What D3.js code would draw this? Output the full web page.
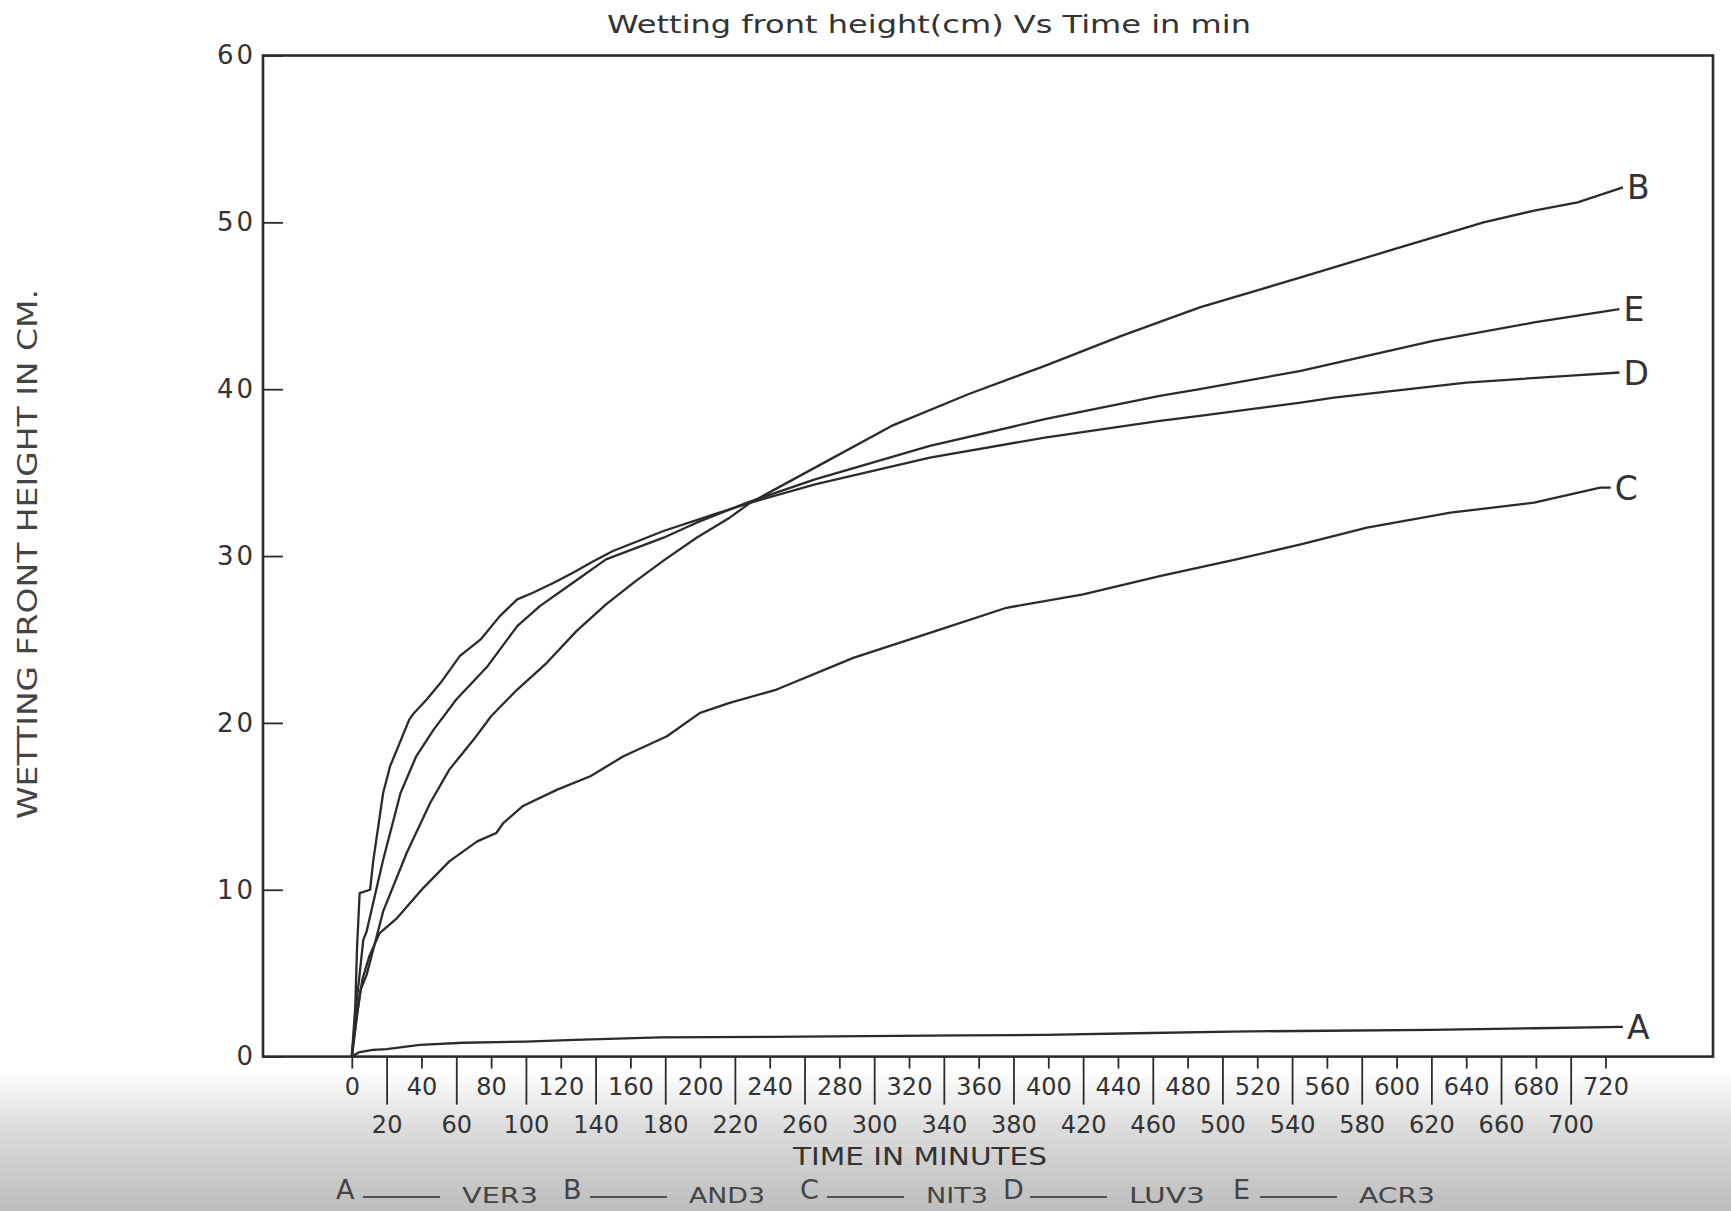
<!DOCTYPE html>
<html>
<head>
<meta charset="utf-8">
<script src="https://cdn.jsdelivr.net/npm/d3@7"></script>
<style>
  body { margin: 0; background: #fff; }
  svg { display: block; }
</style>
</head>
<body>
<svg id="chart" width="1731" height="1211"></svg>
<script>
// tick labels
let xTickTop = [0, 40, 80, 120, 160, 200, 240, 280, 320, 360, 400, 440, 480, 520, 560, 600, 640, 680, 720];
let xTickBottom = [20, 60, 100, 140, 180, 220, 260, 300, 340, 380, 420, 460, 500, 540, 580, 620, 660, 700];
let yTicks = [0, 10, 20, 30, 40, 50, 60];

// series: [time in min, wetting front height in cm]
let seriesKeys = ['A', 'B', 'C', 'D', 'E'];
let seriesNames = ['VER3', 'AND3', 'NIT3', 'LUV3', 'ACR3'];

let ver3 = [[0,0],[4,0.25],[12,0.4],[20,0.45],[39,0.7],[64,0.83],[100,0.9],[128,1.0],[177,1.15],[240,1.18],[295,1.23],
    [350,1.27],[398,1.3],[450,1.4],[505,1.5],[560,1.55],[620,1.6],[680,1.7],[730,1.78]];
let and3 = [[0,0],[3,2.5],[5,4],[8.5,4.9],[18,8.7],[31.5,12.2],[45,15.2],[56,17.2],[70,19.0],[80,20.4],[95,22.0],
    [112,23.6],[129,25.5],[146,27.1],[163,28.5],[180,29.8],[198,31.1],[217,32.3],[229,33.2],[266,35.3],[310,37.8],
    [354,39.7],[398,41.4],[442,43.2],[487,44.9],[545,46.7],[602,48.5],[650,50.0],[679,50.7],[704,51.2],[730,52.1]];
let nit3 = [[0,0],[3,2.5],[6,4.6],[10,6.0],[16,7.4],[26,8.3],[41,10.1],[56,11.7],[72,12.9],[83,13.4],[87,14.0],
    [98,15.0],[118,16.0],[137,16.8],[156,18.0],[181,19.2],[200,20.6],[217,21.2],[244,22.0],[288,23.9],[332,25.4],
    [376,26.9],[420,27.7],[464,28.8],[508,29.8],[545,30.7],[583,31.7],[631,32.6],[679,33.2],[717,34.1],[723,34.1]];
let luv3 = [[0,0],[2,3],[3,6.5],[4.5,9.8],[10.5,10.0],[12.4,11.8],[18,15.8],[22,17.4],[33,20.2],[35,20.5],[43,21.4],
    [51,22.4],[62,24.0],[74,25.0],[85,26.4],[95,27.4],[104,27.8],[116,28.4],[127,29.0],[139,29.7],[150,30.3],
    [179,31.5],[208,32.5],[229,33.2],[266,34.3],[332,35.9],[398,37.1],[464,38.1],[487,38.4],[545,39.2],[564,39.5],
    [640,40.4],[698,40.8],[728,41.0]];
let acr3 = [[0,0],[3,3.5],[6.6,7.0],[8.5,7.5],[18,11.8],[28,15.8],[37,18.0],[47,19.6],[60,21.4],[78,23.4],[95,25.8],
    [108,27.0],[127,28.4],[146,29.8],[179,31.1],[198,32.0],[227,33.2],[266,34.6],[332,36.6],[398,38.2],[464,39.6],
    [487,40.0],[545,41.1],[621,42.9],[679,44.0],[728,44.8]];

let seriesData = [ver3, and3, nit3, luv3, acr3];

function drawChart() {
    let svg = d3.select("#chart");
    let ink = "#2b2b2b";

    // paper shadow at the bottom of the photo
    let grad = svg.append("defs").append("linearGradient")
        .attr("id", "paper").attr("x1", 0).attr("y1", 0).attr("x2", 0).attr("y2", 1);
    grad.append("stop").attr("offset", 0).attr("stop-color", "#ffffff");
    grad.append("stop").attr("offset", 0.885).attr("stop-color", "#ffffff");
    grad.append("stop").attr("offset", 0.93).attr("stop-color", "#dddddd");
    grad.append("stop").attr("offset", 1).attr("stop-color", "#bdbdbd");
    svg.append("rect").attr("width", 1731).attr("height", 1211).attr("fill", "url(#paper)");

    let frame = { left: 263, right: 1713, top: 55.5, bottom: 1056.6 };

    let x = d3.scaleLinear().domain([0, 720]).range([351.8, 1605.5]);
    let y = d3.scaleLinear().domain([0, 60]).range([frame.bottom, frame.top]);

    // frame
    svg.append("rect")
        .attr("x", frame.left).attr("y", frame.top)
        .attr("width", frame.right - frame.left).attr("height", frame.bottom - frame.top)
        .attr("fill", "none").attr("stroke", ink).attr("stroke-width", 2.6);

    // x axis, two rows of labels
    let xTop = svg.append("g")
        .attr("transform", "translate(0," + frame.bottom + ")")
        .call(d3.axisBottom(x).tickValues(xTickTop).tickSize(12).tickPadding(9));
    let xBot = svg.append("g")
        .attr("transform", "translate(0," + frame.bottom + ")")
        .call(d3.axisBottom(x).tickValues(xTickBottom).tickSize(48).tickPadding(11));
    [xTop, xBot].forEach(function (g) {
        g.select(".domain").remove();
        g.selectAll("line").attr("stroke", ink).attr("stroke-width", 1.8);
        g.selectAll("text")
            .style("font-family", "'DejaVu Sans', sans-serif")
            .style("font-size", "24px")
            .attr("fill", "#333");
    });

    // y axis, ticks pointing inwards
    let yAxis = svg.append("g")
        .attr("transform", "translate(" + frame.left + ",0)")
        .call(d3.axisLeft(y).tickValues(yTicks).tickSizeInner(-20).tickSizeOuter(0).tickPadding(7));
    yAxis.select(".domain").remove();
    yAxis.selectAll("line").attr("stroke", ink).attr("stroke-width", 1.8);
    yAxis.selectAll("text")
        .style("font-family", "'DejaVu Sans', sans-serif")
        .style("font-size", "26px")
        .style("letter-spacing", "3px")
        .attr("fill", "#333");

    // curves
    let line = d3.line()
        .x(function (d) { return x(d[0]); })
        .y(function (d) { return y(d[1]); });

    svg.append("g").selectAll("path")
        .data(seriesData)
        .enter().append("path")
        .attr("d", line)
        .attr("fill", "none")
        .attr("stroke", ink)
        .attr("stroke-width", 2.3)
        .attr("stroke-linejoin", "round");

    // letters at the end of each curve
    svg.append("g").selectAll("text")
        .data(seriesData)
        .enter().append("text")
        .attr("x", function (d) { return x(d[d.length - 1][0]) + 4; })
        .attr("y", function (d) { return y(d[d.length - 1][1]) + 12; })
        .text(function (d, i) { return seriesKeys[i]; })
        .style("font-family", "'DejaVu Sans', sans-serif")
        .style("font-size", "33px")
        .attr("fill", "#333");

    // title
    svg.append("text")
        .attr("x", 929).attr("y", 33)
        .attr("text-anchor", "middle")
        .attr("textLength", 644).attr("lengthAdjust", "spacingAndGlyphs")
        .text("Wetting front height(cm) Vs Time in min")
        .style("font-family", "'DejaVu Sans', sans-serif")
        .style("font-size", "25px")
        .attr("fill", "#333");

    // axis titles
    svg.append("text")
        .attr("x", 920).attr("y", 1165)
        .attr("text-anchor", "middle")
        .attr("textLength", 254).attr("lengthAdjust", "spacingAndGlyphs")
        .text("TIME IN MINUTES")
        .style("font-family", "'DejaVu Sans', sans-serif")
        .style("font-size", "25px")
        .attr("fill", "#333");

    svg.append("text")
        .attr("transform", "translate(37,554) rotate(-90)")
        .attr("text-anchor", "middle")
        .attr("textLength", 530).attr("lengthAdjust", "spacingAndGlyphs")
        .text("WETTING FRONT HEIGHT IN CM.")
        .style("font-family", "'DejaVu Sans', sans-serif")
        .style("font-size", "26px")
        .attr("fill", "#444");

    // legend along the bottom
    let legendX = [336, 563, 800, 1003, 1233];
    let legend = svg.append("g").selectAll("g")
        .data(seriesKeys)
        .enter().append("g")
        .attr("transform", function (d, i) { return "translate(" + legendX[i] + ",1199)"; });
    legend.append("text")
        .text(function (d) { return d; })
        .style("font-family", "'DejaVu Sans', sans-serif")
        .style("font-size", "27px")
        .attr("fill", "#444");
    legend.append("line")
        .attr("x1", 27).attr("x2", 104).attr("y1", -2).attr("y2", -2)
        .attr("stroke", ink).attr("stroke-width", 1.6);
    legend.append("text")
        .attr("x", 126).attr("y", 4)
        .attr("textLength", function (d, i) { return seriesNames[i] === 'NIT3' ? 62 : 76; })
        .attr("lengthAdjust", "spacingAndGlyphs")
        .text(function (d, i) { return seriesNames[i]; })
        .style("font-family", "'DejaVu Sans', sans-serif")
        .style("font-size", "22px")
        .attr("fill", "#444");
}
drawChart();
</script>
</body>
</html>
